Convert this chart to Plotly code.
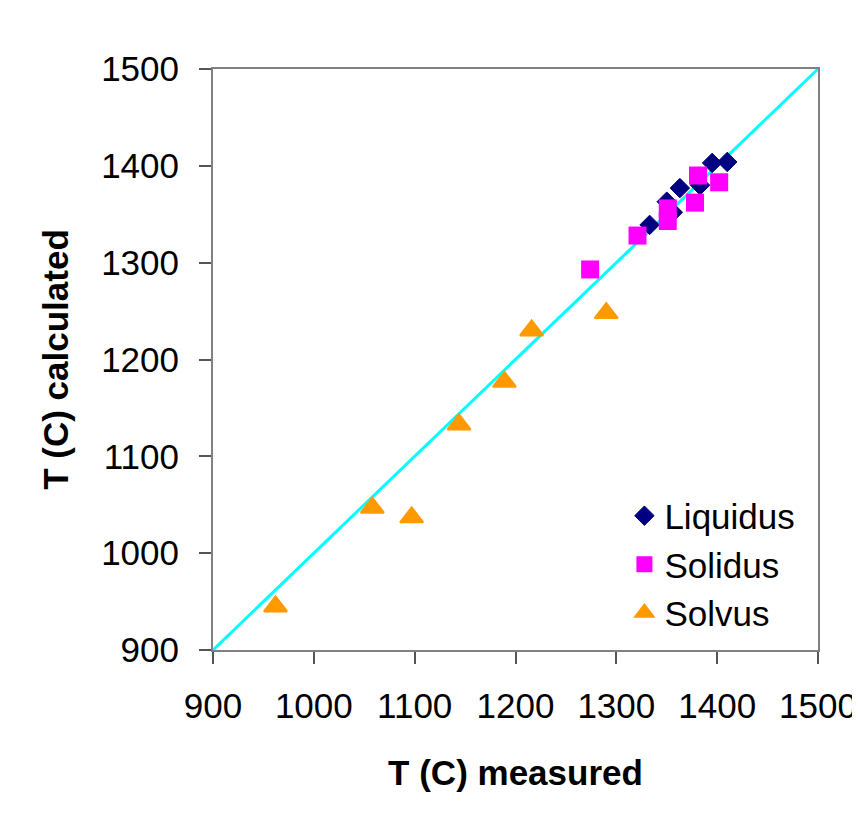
import plotly.graph_objects as go

# Data
liquidus_x = [1333, 1350, 1356, 1363, 1383, 1395, 1410]
liquidus_y = [1339, 1363, 1352, 1377, 1380, 1403, 1404]

solidus_x = [1274, 1321, 1351, 1351, 1378, 1381, 1402]
solidus_y = [1293, 1328, 1356, 1343, 1362, 1390, 1383]

solvus_x = [962, 1058, 1097, 1144, 1189, 1216, 1290]
solvus_y = [945, 1047, 1037, 1133, 1177, 1230, 1248]

line_x = [900, 1500]
line_y = [900, 1500]

tick_vals = [900, 1000, 1100, 1200, 1300, 1400, 1500]

FONT = "Arial, Liberation Sans, sans-serif"

fig = go.Figure()

fig.add_trace(go.Scatter(x=line_x, y=line_y, mode="lines",
                         line=dict(color="#00ffff", width=3),
                         showlegend=False, hoverinfo="skip"))

fig.add_trace(go.Scatter(x=liquidus_x, y=liquidus_y, mode="markers", name="Liquidus",
                         marker=dict(symbol="diamond", size=15, color="#000080",
                                     line=dict(color="#000080", width=1))))
fig.add_trace(go.Scatter(x=solidus_x, y=solidus_y, mode="markers", name="Solidus",
                         marker=dict(symbol="square", size=18, color="#ff00ff",
                                     line=dict(width=0))))
fig.add_trace(go.Scatter(x=solvus_x, y=solvus_y, mode="markers", name="Solvus",
                         marker=dict(symbol="triangle-up", size=20, color="#ff9900",
                                     line=dict(color="#ff9900", width=2))))

W, H = 852, 828
L, R, T, B = 205, 42, 61, 186

fig.update_layout(
    width=W, height=H,
    margin=dict(l=L, r=R, t=T, b=B, pad=0, autoexpand=False),
    paper_bgcolor="white",
    plot_bgcolor="white",
    font=dict(family=FONT, size=35, color="black"),
    showlegend=True,
    legend=dict(x=0.68, y=0.013, xanchor="left", yanchor="bottom",
                bgcolor="rgba(0,0,0,0)", borderwidth=0,
                font=dict(family=FONT, size=35, color="black"),
                itemwidth=30, tracegroupgap=0),
)

fig.update_xaxes(
    range=[900, 1500], tickvals=tick_vals, ticks="outside", ticklen=12,
    tickwidth=2, tickcolor="#555555", showline=True, linecolor="#808080",
    linewidth=2, mirror=True, showgrid=False, zeroline=False, automargin=False,
    tickfont=dict(family=FONT, size=35), ticklabelstandoff=12,
    title=dict(text="<b>T (C) measured</b>", font=dict(family=FONT, size=35),
               standoff=36),
)
fig.update_yaxes(
    range=[900, 1500], tickvals=tick_vals, ticks="outside", ticklen=12,
    tickwidth=2, tickcolor="#555555", showline=True, linecolor="#808080",
    linewidth=2, mirror=True, showgrid=False, zeroline=False, automargin=False,
    tickfont=dict(family=FONT, size=35), ticklabelstandoff=13,
    title=dict(text="<b>T (C) calculated</b>", font=dict(family=FONT, size=35),
               standoff=22),
)

fig.write_html("out.html")
